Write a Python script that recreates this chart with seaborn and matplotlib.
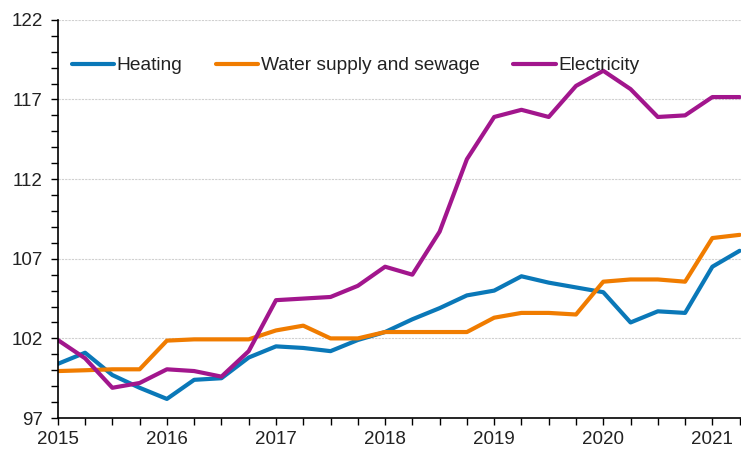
import seaborn as sns
import pandas as pd
import matplotlib.pyplot as plt
from matplotlib.ticker import MultipleLocator

sns.set_theme(style="white")
plt.rcParams['font.family'] = ['Liberation Sans', 'DejaVu Sans']

# quarterly index, 2015Q1 .. 2021Q2
quarters = list(range(26))
years = ['2015', '2016', '2017', '2018', '2019', '2020', '2021']

heating = [100.4, 101.1, 99.7, 98.9, 98.2, 99.4, 99.5, 100.8,
           101.5, 101.4, 101.2, 101.9, 102.4, 103.2, 103.9, 104.7,
           105.0, 105.9, 105.5, 105.2, 104.9, 103.0, 103.7, 103.6,
           106.5, 107.5]
water = [99.95, 100.0, 100.06, 100.06, 101.86, 101.94, 101.94, 101.94,
         102.5, 102.8, 102.0, 102.0, 102.4, 102.4, 102.4, 102.4,
         103.3, 103.6, 103.6, 103.5, 105.56, 105.7, 105.7, 105.56,
         108.3, 108.5]
electricity = [101.9, 100.75, 98.9, 99.2, 100.06, 99.95, 99.6, 101.2,
               104.4, 104.5, 104.6, 105.3, 106.5, 106.0, 108.7, 113.25,
               115.9, 116.35, 115.9, 117.85, 118.8, 117.65, 115.9, 116.0,
               117.15, 117.15]

names = ['Heating', 'Water supply and sewage', 'Electricity']
colors = ['#0a78b8', '#f07c00', '#a2168d']

df = pd.DataFrame({'quarter': quarters * 3,
                   'value': heating + water + electricity,
                   'series': [n for n in names for _ in quarters]})

fig = plt.figure(figsize=(7.41, 4.5), dpi=100)
ax = fig.add_axes([0.078, 0.071, 0.922, 0.885])

sns.lineplot(data=df, x='quarter', y='value', hue='series', hue_order=names,
             palette=colors, linewidth=3, ax=ax)

ax.set_xlim(0, 25.05)
ax.set_ylim(97, 122)
ax.set_xticks(range(0, 26, 4))
ax.set_xticklabels(years)
ax.xaxis.set_minor_locator(MultipleLocator(1))
ax.set_yticks(range(97, 123, 5))
ax.yaxis.set_minor_locator(MultipleLocator(1))
ax.tick_params(which='both', direction='out', length=5, width=1, color='black',
               left=True, bottom=True, labelsize=13.5, labelcolor='#222222')
ax.tick_params(axis='x', pad=4)
ax.tick_params(axis='y', pad=6)
ax.grid(axis='y', which='major', linestyle=(0, (2, 1)), color='#d0d0d0', linewidth=0.8)
ax.set_xlabel('')
ax.set_ylabel('')
for s in ['top', 'right']:
    ax.spines[s].set_visible(False)
for s in ['left', 'bottom']:
    ax.spines[s].set_color('black')
    ax.spines[s].set_linewidth(1.2)

ax.legend(loc='upper left', bbox_to_anchor=(-0.005, 0.95), ncol=3, frameon=False,
          fontsize=13.8, handlelength=2.2, handletextpad=0.15, columnspacing=1.75,
          labelcolor='#222222')

plt.savefig('out.png', dpi=100)
